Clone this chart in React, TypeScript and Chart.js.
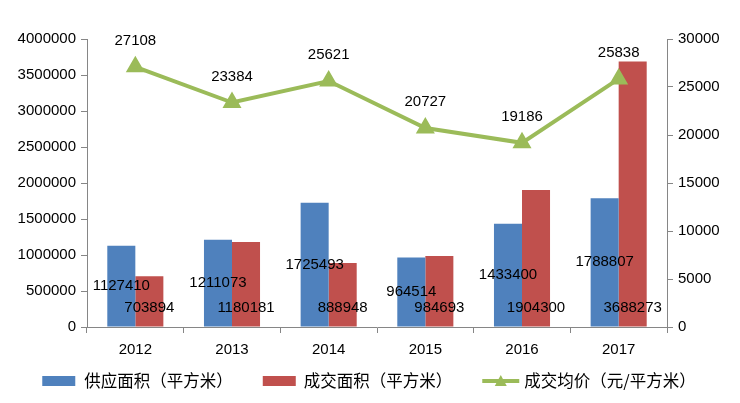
import React, { useEffect, useRef } from "react";
import { Chart, registerables } from "chart.js";

Chart.register(...registerables);

const categories = ["2012", "2013", "2014", "2015", "2016", "2017"];
const supplyArea = [1127410, 1211073, 1725493, 964514, 1433400, 1788807];
const dealArea = [703894, 1180181, 888948, 984693, 1904300, 3688273];
const avgPrice = [27108, 23384, 25621, 20727, 19186, 25838];
const leftTicks = [0, 500000, 1000000, 1500000, 2000000, 2500000, 3000000, 3500000, 4000000];
const rightTicks = [0, 5000, 10000, 15000, 20000, 25000, 30000];
const seriesNames = ["供应面积（平方米）", "成交面积（平方米）", "成交均价（元/平方米）"];

const BLUE = "#4F81BD";
const RED = "#C0504D";
const GREEN = "#9BBB59";
const AXIS = "#868686";
const FONT = "'Liberation Sans', 'Noto Sans CJK SC', sans-serif";
const CJK_FONT = "'Noto Sans CJK SC', sans-serif";

const labelPlugin = {
  id: "valueLabels",
  afterDatasetsDraw(chart: any) {
    const ctx = chart.ctx;
    ctx.save();
    ctx.font = `15px ${FONT}`;
    ctx.fillStyle = "#000";
    ctx.textAlign = "center";
    ctx.textBaseline = "middle";
    const m0 = chart.getDatasetMeta(0);
    m0.data.forEach((el: any, i: number) => {
      ctx.fillText(String(supplyArea[i]), el.x, (el.y + el.base) / 2);
    });
    const m1 = chart.getDatasetMeta(1);
    m1.data.forEach((el: any, i: number) => {
      ctx.fillText(String(dealArea[i]), el.x, el.base - 19);
    });
    const m2 = chart.getDatasetMeta(2);
    m2.data.forEach((el: any, i: number) => {
      ctx.fillText(String(avgPrice[i]), el.x, el.y - 26);
    });
    ctx.restore();
  },
};

const legendPlugin = {
  id: "customLegend",
  afterDraw(chart: any) {
    const ctx = chart.ctx;
    ctx.save();
    ctx.font = `16.5px ${CJK_FONT}`;
    ctx.textBaseline = "middle";
    ctx.textAlign = "left";
    const cy = 381;
    const items = [
      { kind: "bar", color: BLUE, iconW: 33, gap: 9 },
      { kind: "bar", color: RED, iconW: 33, gap: 8 },
      { kind: "line", color: GREEN, iconW: 37, gap: 5 },
    ];
    const itemGap = 30;
    const widths = items.map((it, i) => it.iconW + it.gap + ctx.measureText(seriesNames[i]).width);
    const total = widths.reduce((a, b) => a + b, 0) + itemGap * (items.length - 1);
    let x = (chart.width - total) / 2 - 1;
    items.forEach((it, i) => {
      if (it.kind === "bar") {
        ctx.fillStyle = it.color;
        ctx.fillRect(x, cy - 5, it.iconW, 10);
      } else {
        ctx.strokeStyle = it.color;
        ctx.lineWidth = 4;
        ctx.beginPath();
        ctx.moveTo(x, cy);
        ctx.lineTo(x + it.iconW, cy);
        ctx.stroke();
        ctx.fillStyle = it.color;
        const mx = x + it.iconW / 2;
        ctx.beginPath();
        ctx.moveTo(mx, cy - 6);
        ctx.lineTo(mx + 6, cy + 5);
        ctx.lineTo(mx - 6, cy + 5);
        ctx.closePath();
        ctx.fill();
      }
      ctx.fillStyle = "#000";
      ctx.fillText(seriesNames[i], x + it.iconW + it.gap, cy);
      x += widths[i] + itemGap;
    });
    ctx.restore();
  },
};

export default function App() {
  const ref = useRef<HTMLCanvasElement | null>(null);

  useEffect(() => {
    document.body.style.margin = "0";
    const chart = new Chart(ref.current!, {
      type: "bar",
      data: {
        labels: categories,
        datasets: [
          {
            type: "bar",
            label: seriesNames[0],
            data: supplyArea,
            backgroundColor: BLUE,
            borderWidth: 0,
            yAxisID: "y",
            categoryPercentage: 0.58,
            barPercentage: 1,
            order: 2,
          },
          {
            type: "bar",
            label: seriesNames[1],
            data: dealArea,
            backgroundColor: RED,
            borderWidth: 0,
            yAxisID: "y",
            categoryPercentage: 0.58,
            barPercentage: 1,
            order: 2,
          },
          {
            type: "line",
            label: seriesNames[2],
            data: avgPrice,
            borderColor: GREEN,
            backgroundColor: GREEN,
            borderWidth: 4,
            pointStyle: "triangle",
            pointRadius: 7,
            pointBackgroundColor: GREEN,
            pointBorderColor: GREEN,
            yAxisID: "y1",
            order: 1,
          } as any,
        ],
      },
      options: {
        animation: false,
        responsive: false,
        maintainAspectRatio: false,
        layout: { padding: { top: 39, left: 0, right: 0, bottom: 36 } },
        plugins: {
          tooltip: { enabled: false },
          legend: { display: false },
        },
        scales: {
          x: {
            grid: {
              display: true,
              drawOnChartArea: false,
              drawTicks: true,
              tickLength: 6,
              color: AXIS,
              offset: true,
            },
            border: { color: AXIS, width: 1 },
            ticks: { color: "#000", font: { size: 15, family: FONT }, padding: 8 },
            afterFit: (s: any) => {
              s.height = 40;
            },
          },
          y: {
            position: "left",
            min: 0,
            max: 4000000,
            afterBuildTicks: (s: any) => {
              s.ticks = leftTicks.map((v) => ({ value: v }));
            },
            grid: { drawOnChartArea: false, tickLength: 6, color: AXIS },
            border: { color: AXIS, width: 1 },
            ticks: {
              color: "#000",
              font: { size: 15, family: FONT },
              padding: 5,
              callback: (v: any) => String(v),
            },
            afterFit: (s: any) => {
              s.width = 87;
            },
          },
          y1: {
            position: "right",
            min: 0,
            max: 30000,
            afterBuildTicks: (s: any) => {
              s.ticks = rightTicks.map((v) => ({ value: v }));
            },
            grid: { drawOnChartArea: false, tickLength: 6, color: AXIS },
            border: { color: AXIS, width: 1 },
            ticks: {
              color: "#000",
              font: { size: 15, family: FONT },
              padding: 5,
              callback: (v: any) => String(v),
            },
            afterFit: (s: any) => {
              s.width = 73;
            },
          },
        },
      },
      plugins: [labelPlugin, legendPlugin],
    });
    return () => chart.destroy();
  }, []);

  return (
    <div style={{ width: 740, height: 403, background: "#fff" }}>
      <canvas ref={ref} width={740} height={403} style={{ width: 740, height: 403, display: "block" }} />
    </div>
  );
}
